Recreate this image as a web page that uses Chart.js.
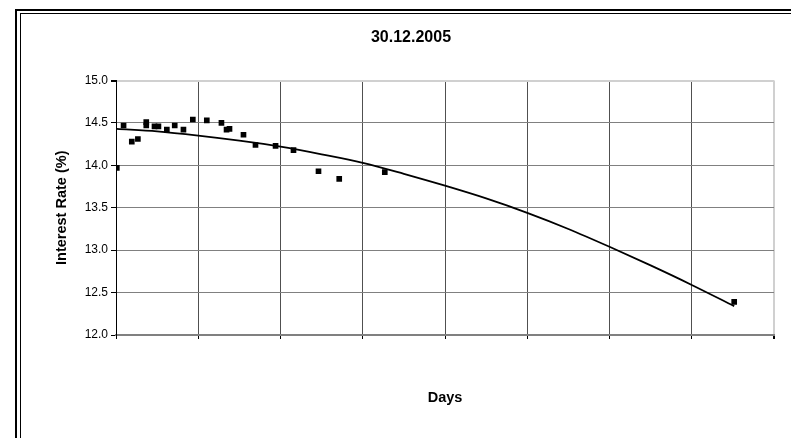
<!DOCTYPE html>
<html lang="en">
<head>
    <meta charset="UTF-8">
    <title>Interest Rate 30.12.2005</title>
    <script src="https://cdn.jsdelivr.net/npm/chart.js"></script>
    <style>
        html, body { margin: 0; padding: 0; background: #fff; overflow: hidden; }
        #wrap { position: relative; width: 791px; height: 438px; }
        #rateChart { position: absolute; left: 0; top: 0; }
        /* double frame, cut off at right and bottom like the original */
        .frame-outer { position: absolute; left: 15px; top: 9px; width: 800px; height: 450px;
                       border-left: 2px solid #000; border-top: 2px solid #000; pointer-events: none; }
        .frame-inner { position: absolute; left: 20px; top: 13px; width: 800px; height: 450px;
                       border-left: 1px solid #000; border-top: 1px solid #000; pointer-events: none; }
    </style>
</head>
<body>
    <div id="wrap">
        <canvas id="rateChart" width="791" height="438"></canvas>
        <div class="frame-outer"></div>
        <div class="frame-inner"></div>
    </div>

    <script>
        // --- DATA ---
        const chartTitle = '30.12.2005';
        const xTitle = 'Days';
        const yTitle = 'Interest Rate (%)';

        // observed rates
        const days  = [5, 46, 96, 133, 184, 184, 234, 258, 309, 357, 410, 467, 552, 641, 672, 690,
                       775, 848, 970, 1079, 1231, 1357, 1634, 3758];
        const rates = [13.97, 14.47, 14.28, 14.31, 14.51, 14.47, 14.46, 14.46, 14.42, 14.47, 14.42, 14.54,
                       14.53, 14.50, 14.42, 14.43, 14.36, 14.24, 14.23, 14.18, 13.93, 13.84, 13.92, 12.39];

        // trend curve
        const trendDays  = [5, 250, 500, 750, 1000, 1250, 1500, 1750, 2000, 2250, 2500, 2750,
                            3000, 3250, 3500, 3758];
        const trendRates = [14.43, 14.40, 14.35, 14.29, 14.22, 14.13, 14.03, 13.90, 13.76, 13.61, 13.44, 13.25,
                            13.04, 12.82, 12.59, 12.34];

        const xMin = 0, xMax = 4000, xStep = 500;
        const yMin = 12, yMax = 15, yStep = 0.5;

        // --- CHART ---
        const ctx = document.getElementById('rateChart').getContext('2d');

        new Chart(ctx, {
            type: 'scatter',
            data: {
                datasets: [
                    {
                        label: 'Rates',
                        data: days.map((d, i) => ({ x: d, y: rates[i] })),
                        pointStyle: 'rect',
                        pointRadius: 4,
                        pointBorderWidth: 0,
                        backgroundColor: '#000',
                        borderColor: '#000',
                        showLine: false
                    },
                    {
                        label: 'Trend',
                        data: trendDays.map((d, i) => ({ x: d, y: trendRates[i] })),
                        showLine: true,
                        borderColor: '#000',
                        borderWidth: 1.8,
                        pointRadius: 0,
                        cubicInterpolationMode: 'monotone'
                    }
                ]
            },
            options: {
                responsive: false,
                animation: false,
                // left padding shifts the title centre to where it sits in the original
                layout: { padding: { left: 48, right: 17, top: 0, bottom: 0 } },
                plugins: {
                    legend: { display: false },
                    tooltip: { enabled: false },
                    title: {
                        display: true,
                        text: chartTitle,
                        color: '#000',
                        font: { family: 'Liberation Sans, Arial, sans-serif', size: 16, weight: 'bold', lineHeight: 1.2 },
                        padding: { top: 28.4, bottom: 32.9 }
                    }
                },
                scales: {
                    x: {
                        type: 'linear',
                        min: xMin,
                        max: xMax,
                        ticks: { stepSize: xStep, display: false },
                        grid: {
                            color: c => c.tick && c.tick.value === xMax ? '#d0d0d0' : '#505050',
                            lineWidth: c => c.tick && c.tick.value === xMax ? 2 : 1,
                            tickColor: '#000',
                            tickLength: 4
                        },
                        border: { display: true, color: '#808080', width: 2 },
                        title: {
                            display: true,
                            text: xTitle,
                            color: '#000',
                            font: { family: 'Liberation Sans, Arial, sans-serif', size: 14.5, weight: 'bold', lineHeight: 1.2 },
                            padding: { top: 0, bottom: 31.3 }
                        },
                        afterFit: s => { s.height = 103; }
                    },
                    y: {
                        min: yMin,
                        max: yMax,
                        ticks: {
                            stepSize: yStep,
                            color: '#000',
                            padding: 3,
                            font: { family: 'Liberation Sans, Arial, sans-serif', size: 12 },
                            callback: v => v.toFixed(1)
                        },
                        grid: {
                            color: c => c.tick && c.tick.value === yMax ? '#d0d0d0' : '#808080',
                            lineWidth: c => c.tick && c.tick.value === yMax ? 2 : 1,
                            tickColor: '#000',
                            tickLength: 5
                        },
                        border: { display: true, color: '#000', width: 1 },
                        title: {
                            display: true,
                            text: yTitle,
                            color: '#000',
                            font: { family: 'Liberation Sans, Arial, sans-serif', size: 14.5, weight: 'bold', lineHeight: 1.2 },
                            padding: { top: 5, bottom: 0 }
                        },
                        afterFit: s => { s.width = 68; }
                    }
                }
            }
        });
    </script>
</body>
</html>
